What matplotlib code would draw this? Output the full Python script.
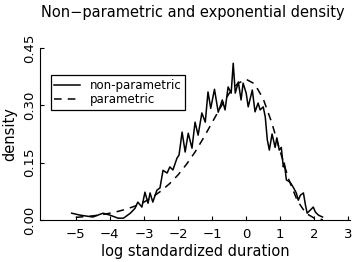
import matplotlib
matplotlib.use("Agg")
import matplotlib.pyplot as plt

# non-parametric density
np_x = [-5.12, -4.88, -4.5, -4.2, -4.0, -3.76, -3.6, -3.4, -3.26, -3.18, -3.06,
        -2.97, -2.88, -2.82, -2.74, -2.62, -2.53, -2.44, -2.32, -2.24, -2.15,
        -2.03, -1.97, -1.88, -1.79, -1.7, -1.59, -1.5, -1.41, -1.3, -1.2,
        -1.12, -1.04, -0.93, -0.82, -0.7, -0.62, -0.53, -0.44, -0.38, -0.32,
        -0.23, -0.15, -0.09, 0.0, 0.06, 0.18, 0.26, 0.35, 0.41, 0.5, 0.56,
        0.62, 0.68, 0.76, 0.85, 0.9, 0.97, 1.03, 1.09, 1.12, 1.18, 1.29, 1.38,
        1.47, 1.53, 1.59, 1.68, 1.74, 1.79, 1.88, 1.97, 2.03, 2.12, 2.24]
np_y = [0.018, 0.013, 0.008, 0.018, 0.013, 0.005, 0.005, 0.018, 0.031, 0.047, 0.034,
        0.073, 0.044, 0.071, 0.047, 0.078, 0.084, 0.130, 0.123, 0.139, 0.131,
        0.162, 0.170, 0.230, 0.178, 0.227, 0.188, 0.256, 0.222, 0.280, 0.256,
        0.335, 0.292, 0.342, 0.282, 0.314, 0.288, 0.348, 0.332, 0.410, 0.332,
        0.361, 0.314, 0.358, 0.332, 0.296, 0.340, 0.283, 0.306, 0.288, 0.296, 0.270,
        0.210, 0.183, 0.225, 0.190, 0.215, 0.183, 0.190, 0.139, 0.149, 0.105, 0.099, 0.086,
        0.071, 0.052, 0.065, 0.071, 0.039, 0.018, 0.026, 0.034, 0.021, 0.013, 0.008]

# parametric (exponential) density
par_x = [-5.0, -4.75, -4.5, -4.25, -4.0, -3.75, -3.5, -3.25, -3.0, -2.75, -2.5,
         -2.25, -2.0, -1.75, -1.5, -1.25, -1.0, -0.75, -0.5, -0.25, 0.0, 0.25,
         0.5, 0.75, 1.0, 1.25, 1.5, 1.75, 2.0, 2.25]
par_y = [0.007, 0.009, 0.011, 0.014, 0.018, 0.023, 0.029, 0.037, 0.047, 0.060, 0.076,
         0.095, 0.118, 0.146, 0.178, 0.215, 0.255, 0.295, 0.331, 0.357, 0.368, 0.356,
         0.317, 0.255, 0.179, 0.106, 0.051, 0.018, 0.005, 0.001]

xticks = [-5, -4, -3, -2, -1, 0, 1, 2, 3]
yticks = [0.00, 0.15, 0.30, 0.45]

fig = plt.figure(figsize=(3.54, 2.62), dpi=100)
ax = fig.add_axes([0.113, 0.160, 0.876, 0.657])

ax.plot(np_x, np_y, color="black", lw=1.1, label="non-parametric")
ax.plot(par_x, par_y, color="black", lw=1.1, ls=(0, (5, 4)), label="parametric")

ax.set_xlim(-6.05, 3.05)
ax.set_ylim(0, 0.45)
ax.set_xticks(xticks)
ax.set_xticklabels([str(t).replace("-", "\u2212") for t in xticks])
ax.set_yticks(yticks)
ax.set_yticklabels(["%.2f" % t for t in yticks], rotation=90, va="center")
ax.tick_params(direction="in", length=3, labelsize=9.5, color="black")
ax.tick_params(axis="x", pad=6)
ax.tick_params(axis="y", pad=3)
for s in ["top", "right"]:
    ax.spines[s].set_visible(False)

ax.set_xlabel("log standardized duration", fontsize=10.5, labelpad=2)
ax.set_ylabel("density", fontsize=10.5, labelpad=4)
fig.suptitle("Non\u2212parametric and exponential density", fontsize=10.5, x=0.545, y=0.98)

leg = ax.legend(loc="upper left", bbox_to_anchor=(0.015, 0.875), fontsize=8.5,
                frameon=True, fancybox=False, edgecolor="black", framealpha=1,
                handlelength=2.2, borderpad=0.3, labelspacing=0.1)
leg.get_frame().set_linewidth(0.9)

fig.savefig("out.png", dpi=100)
